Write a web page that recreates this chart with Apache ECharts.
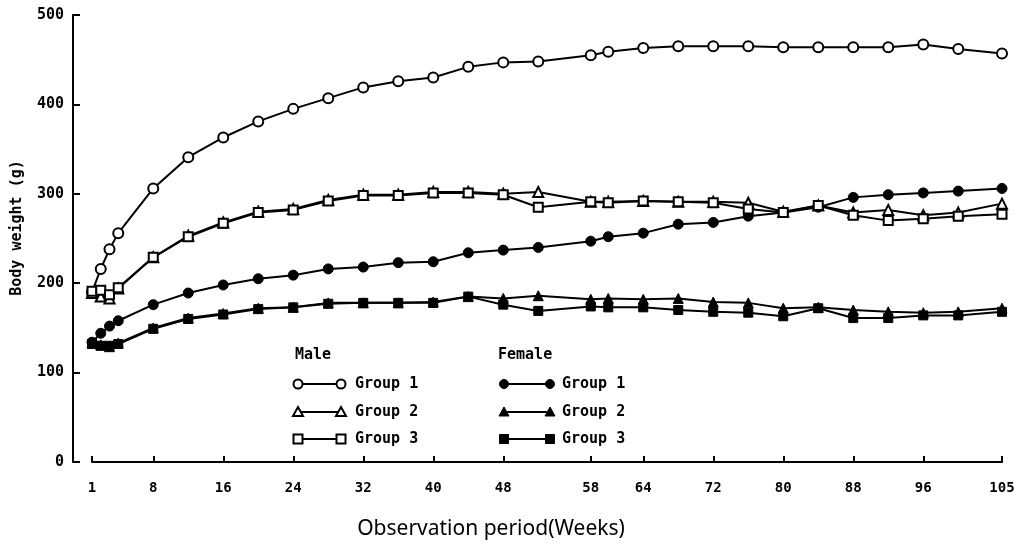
<!DOCTYPE html>
<html>
<head>
<meta charset="utf-8">
<script src="https://cdn.jsdelivr.net/npm/echarts@6/dist/echarts.min.js"></script>
<style>
html,body{margin:0;padding:0;background:#fff;}
#c{width:1021px;height:548px;}
</style>
</head>
<body>
<div id="c"></div>
<script>
// ---- data ----
const weeks = [1,2,3,4,8,12,16,20,24,28,32,36,40,44,48,52,58,60,64,68,72,76,80,84,88,92,96,100,105];
const maleG1   = [190,216,238,256,306,341,363,381,395,407,419,426,430,442,447,448,455,459,463,465,465,465,464,464,464,464,467,462,457];
const maleG2   = [189,185,183,194,229,253,268,280,283,293,299,299,302,302,300,302,291,291,292,291,291,290,280,287,279,282,276,279,289];
const maleG3   = [191,192,187,195,229,252,267,279,282,292,298,298,301,301,299,285,291,290,292,291,290,283,279,287,276,270,272,275,277];
const femaleG1 = [134,144,152,158,176,189,198,205,209,216,218,223,224,234,237,240,247,252,256,266,268,275,279,285,296,299,301,303,306];
const femaleG2 = [133,131,129,133,150,161,166,172,173,178,178,178,179,185,183,186,182,183,182,183,179,178,172,173,170,168,167,168,172];
const femaleG3 = [132,130,130,132,149,160,165,171,173,177,178,178,178,185,176,169,174,173,173,170,168,167,163,172,161,161,164,164,168];
const xTickLabels = [1,8,16,24,32,40,48,58,64,72,80,88,96,105];
const yMin = 0, yMax = 500, yStep = 100;
const xName = 'Observation period(Weeks)';
const yName = 'Body weight (g)';
const legendHeads = ['Male','Female'];
const legendNames = ['Group 1','Group 2','Group 3'];

const pairs = arr => weeks.map((w,i)=>[w, arr[i]]);
const MONO = '"DejaVu Sans Mono", monospace';

function mk(name, arr, symbol, filled, size){
  return {
    name, type:'line', data: pairs(arr), symbol, symbolSize: size,
    showAllSymbol:true,
    lineStyle:{color:'#000', width:2},
    itemStyle:{color: filled ? '#000' : '#fff', borderColor:'#000', borderWidth: filled ? 1 : 2},
    emphasis:{disabled:true}, z: filled ? 3 : 4
  };
}

// legend graphic (layout only)
function legendRow(x1, x2, tx, y, symbol, filled, label){
  const els = [{type:'line', shape:{x1, y1:y, x2, y2:y}, style:{stroke:'#000', lineWidth:2}}];
  [x1,x2].forEach(cx=>{
    let shp;
    const st = {fill: filled ? '#000' : '#fff', stroke:'#000', lineWidth: filled?1:2};
    if(symbol==='circle') shp = {type:'circle', shape:{cx, cy:y, r:4.5}, style:st};
    else if(symbol==='triangle') shp = {type:'polygon', shape:{points:[[cx,y-5],[cx+5,y+4],[cx-5,y+4]]}, style:st};
    else shp = {type:'rect', shape:{x:cx-4.5, y:y-4.5, width:9, height:9}, style:st};
    els.push(shp);
  });
  els.push({type:'text', style:{x:tx, y, text:label, font:'bold 15px '+MONO, fill:'#000', textVerticalAlign:'middle'}});
  return els;
}
const rowsY = [384, 412, 439];
const syms = ['circle','triangle','rect'];
let gfx = [];
gfx.push({type:'text', style:{x:295, y:355, text:legendHeads[0], font:'bold 15px '+MONO, fill:'#000', textVerticalAlign:'middle'}});
gfx.push({type:'text', style:{x:498, y:355, text:legendHeads[1], font:'bold 15px '+MONO, fill:'#000', textVerticalAlign:'middle'}});
rowsY.forEach((y,i)=>{
  gfx = gfx.concat(legendRow(298, 341, 355, y, syms[i], false, legendNames[i]));
  gfx = gfx.concat(legendRow(504, 550, 562, y, syms[i], true, legendNames[i]));
});
gfx.push({type:'text', style:{x:491, y:529, text:xName, font:'21px "Noto Sans", sans-serif', fill:'#000', textAlign:'center', textVerticalAlign:'middle'}});
gfx.push({type:'text', rotation:Math.PI/2, x:17, y:228, style:{x:0, y:0, text:yName, font:'bold 15px '+MONO, fill:'#000', textAlign:'center', textVerticalAlign:'middle'}});

const chart = echarts.init(document.getElementById('c'), null, {renderer:'canvas'});
chart.setOption({
  animation:false,
  backgroundColor:'#fff',
  grid:{left:92, right:19, top:15, bottom:86, containLabel:false},
  xAxis:{
    type:'value', min:1, max:105,
    axisLine:{lineStyle:{color:'#000', width:2}},
    axisTick:{inside:true, length:6, lineStyle:{color:'#000', width:2}, customValues:xTickLabels},
    axisLabel:{customValues:xTickLabels, color:'#000', fontFamily:MONO, fontWeight:'bold', fontSize:14, margin:19},
    splitLine:{show:false}
  },
  yAxis:{
    type:'value', min:yMin, max:yMax, interval:yStep, offset:19,
    axisLine:{show:true, lineStyle:{color:'#000', width:2}},
    axisTick:{show:true, inside:true, length:7, lineStyle:{color:'#000', width:2}},
    axisLabel:{color:'#000', fontFamily:MONO, fontWeight:'bold', fontSize:15, margin:9},
    splitLine:{show:false}
  },
  series:[
    mk('Female Group 1', femaleG1, 'circle', true, 10),
    mk('Female Group 2', femaleG2, 'triangle', true, 10),
    mk('Female Group 3', femaleG3, 'rect', true, 9),
    mk('Male Group 1', maleG1, 'circle', false, 10),
    mk('Male Group 2', maleG2, 'triangle', false, 10),
    mk('Male Group 3', maleG3, 'rect', false, 9)
  ],
  graphic: gfx
});
</script>
</body>
</html>
